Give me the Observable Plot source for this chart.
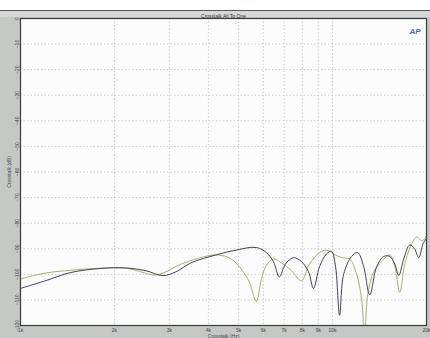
<!DOCTYPE html>
<html><head><meta charset="utf-8">
<script src="https://cdn.jsdelivr.net/npm/d3@7"></script>
<script src="https://cdn.jsdelivr.net/npm/@observablehq/plot@0.6"></script>
<style>body{margin:0;background:#fff}</style>
</head><body><div id="chart"></div>
<script>
const title = "Crosstalk All To One";
const yLabel = "Crosstalk (dB)";
const xLabel = "Crosstalk (Hz)";
const xTicks = [1000,2000,3000,4000,5000,6000,7000,8000,9000,10000,20000];
const xTickLabels = ["1k","2k","3k","4k","5k","6k","7k","8k","9k","10k","20k"];
const yTicks = [0,-10,-20,-30,-40,-50,-60,-70,-80,-90,-100,-110,-120];

const freqA = [1000,1203,1448,1808,2176,2523,2861,3151,3522,4236,4913,5696,6136,6462,6753,7061,7491,7950,8372,8689,9083,9566,9926,10224,10531,10849,11509,12035,12581,13152,13851,14588,15254,15830,16303,16900,17681,18300,18901,19500,20000];
const dbA   = [-105.5,-102.5,-99.3,-97.7,-97.5,-98.6,-100.5,-99,-95.5,-92.4,-90.5,-89.5,-91.5,-95,-101,-96,-93.5,-95,-99,-105.5,-97,-92,-91,-97,-116,-100,-93,-91.5,-97,-108,-97,-93,-93,-96,-100.5,-94,-88.5,-90,-93.5,-88,-86];

const freqB = [1000,1203,1448,1808,2176,2431,2677,2926,3270,4236,4734,5099,5410,5696,5910,6136,6462,6855,7381,7950,8435,9083,9566,10075,10688,11341,11946,12396,12674,12958,13546,14373,15254,15830,16424,17037,17945,18625,19331,20000];
const dbB   = [-101.8,-99.5,-98.4,-97.6,-97.6,-99,-100.3,-99,-96,-92.4,-94,-98,-103,-110.6,-102,-96.5,-94,-95.5,-98.5,-102.5,-96,-91.5,-90.5,-92,-93.5,-94,-100,-110,-125,-108,-99,-95,-92.4,-97,-107,-96,-88,-85.4,-87,-85];

const A = freqA.map((f,i)=>({f, db: dbA[i]}));
const B = freqB.map((f,i)=>({f, db: dbB[i]}));

const chart = Plot.plot({
  width: 430, height: 338,
  marginLeft: 20, marginRight: 4, marginTop: 18, marginBottom: 13,
  style: {background: "linear-gradient(#fff 0 10px, #55575a 10px 11px, #d6d8d6 11px 17px, #c6c8c6 17px)", fontFamily: "Liberation Sans, Arial, sans-serif", color: "#444"},
  x: {type: "log", domain: [1000, 20000]},
  y: {domain: [-120, 0]},
  marks: [
    Plot.frame({fill: "#fcfcfc"}),
    Plot.gridX(xTicks, {stroke: "#b8c2c6", strokeOpacity: 0.75, strokeDasharray: "1.5,2"}),
    Plot.gridY(yTicks, {stroke: "#b8c2c6", strokeOpacity: 0.75, strokeDasharray: "1.5,2"}),
    Plot.line(B, {x: "f", y: "db", stroke: "#a6ae74", strokeWidth: 1, curve: "catmull-rom", clip: true}),
    Plot.line(A, {x: "f", y: "db", stroke: "#45404f", strokeWidth: 1, curve: "catmull-rom", clip: true}),
    Plot.frame({stroke: "#3a3a3a", strokeWidth: 1.2}),
    Plot.axisX({ticks: xTicks, tickFormat: (d)=>xTickLabels[xTicks.indexOf(d)], tickSize: 0, tickPadding: 3, fontSize: 5, label: xLabel, labelAnchor: "center", labelArrow: "none", labelOffset: 12}),
    Plot.axisY({ticks: yTicks, tickSize: 0, tickPadding: 2, tickRotate: -90, fontSize: 5, label: yLabel, labelAnchor: "center", labelArrow: "none", labelOffset: 13}),
    Plot.text([title], {frameAnchor: "top", dy: -4, fontSize: 5, fill: "#333"}),
    Plot.text(["AP"], {frameAnchor: "top-right", dx: -6, dy: 10, fontSize: 8, fontWeight: "bold", fontStyle: "italic", fill: "#4a6cb8"})
  ]
});
document.getElementById("chart").append(chart);
</script></body></html>
